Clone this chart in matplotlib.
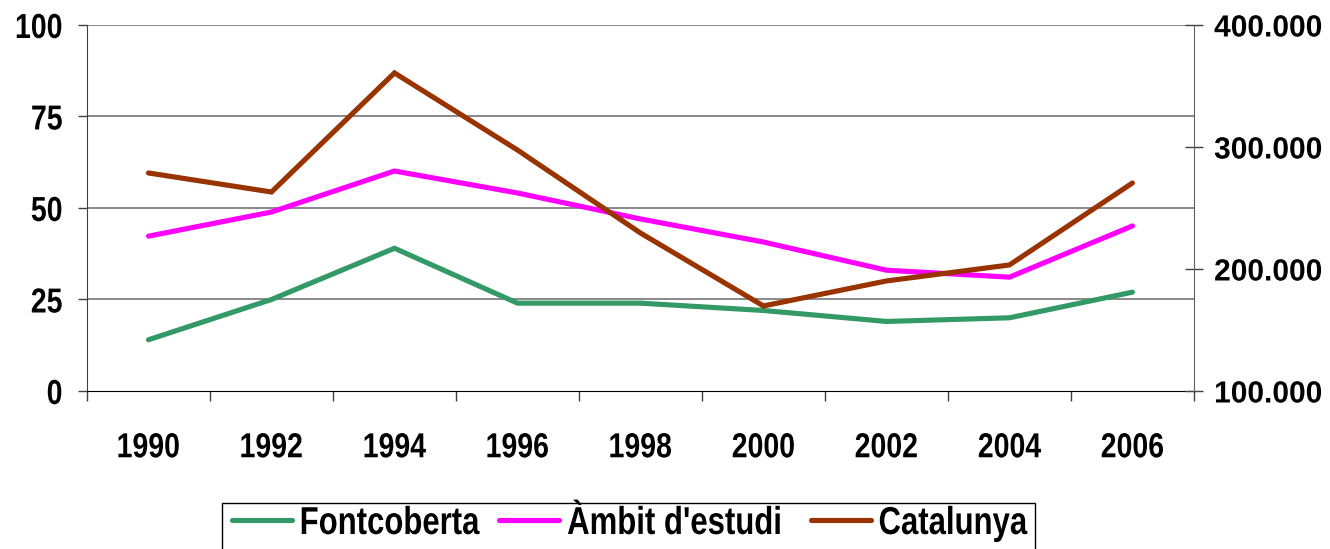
import numpy as np
import matplotlib.pyplot as plt
from matplotlib.patheffects import AbstractPathEffect
from matplotlib.transforms import Affine2D
from matplotlib.patches import Rectangle

years = ['1990', '1992', '1994', '1996', '1998', '2000', '2002', '2004', '2006']
fontcoberta = [14, 25, 39, 24, 24, 22, 19, 20, 27]
ambit = [42.3, 48.9, 60.1, 54.1, 47.0, 40.7, 33.0, 31.1, 45.1]
catalunya = [278700, 263100, 360700, 297500, 229500, 169700, 190200, 203300, 270500]

left_ticks = [0, 25, 50, 75, 100]
right_ticks = [100000, 200000, 300000, 400000]
right_labels = ['100.000', '200.000', '300.000', '400.000']
names = ['Fontcoberta', "Àmbit d'estudi", 'Catalunya']


class Narrow(AbstractPathEffect):
    """Squeeze glyphs horizontally (no narrow font installed)."""
    def __init__(self, sx=0.82, anchor='left'):
        super().__init__()
        self.sx = sx
        self.anchor = anchor

    def draw_path(self, renderer, gc, tpath, affine, rgbFace=None):
        xmax = tpath.vertices[:, 0].max()
        x0 = {'left': 0.0, 'center': xmax / 2, 'right': xmax}[self.anchor]
        squeeze = Affine2D().translate(-x0, 0).scale(self.sx, 1).translate(x0, 0)
        renderer.draw_path(gc, tpath, squeeze + affine, rgbFace)


plt.rcParams['font.family'] = ['Liberation Sans', 'DejaVu Sans']
plt.rcParams['font.weight'] = 'bold'

W, H = 1330, 549
fig = plt.figure(figsize=(W / 100, H / 100), dpi=100)
ax = fig.add_axes([0.0654, 0.2878, 0.8323, 0.6667])
ax2 = ax.twinx()

x = np.arange(len(years))
style = dict(lw=3.7, solid_joinstyle='miter', solid_capstyle='round')
l1, = ax.plot(x, fontcoberta, color='#339966', **style)
l2, = ax.plot(x, ambit, color='#FF00FF', **style)
l3, = ax2.plot(x, catalunya, color='#993300', **style)

ax.set_xlim(-0.5, len(years) - 0.5)
ax.set_ylim(0, 100)
ax2.set_ylim(100000, 400000)

# horizontal grid on the left scale
ax.set_yticks(left_ticks)
ax.set_yticklabels([str(t) for t in left_ticks], fontsize=25, fontweight='bold')
for t in left_ticks[1:]:
    ax.axhline(t, color='#808080', lw=1.3, zorder=0)
ax.tick_params(axis='y', length=6.5, width=1, pad=11, color='#404040')

# category boundaries get tick marks, centres get the labels
ax.set_xticks(np.arange(-0.5, len(years), 1.0))
ax.set_xticklabels([])
ax.set_xticks(x, minor=True)
ax.set_xticklabels(years, minor=True, fontsize=25, fontweight='bold')
ax.tick_params(axis='x', which='major', length=7, width=1, color='#404040')
ax.tick_params(axis='x', which='minor', length=0, pad=29)

ax2.set_yticks(right_ticks)
ax2.set_yticklabels(right_labels, fontsize=22, fontweight='bold')
ax2.tick_params(axis='y', direction='inout', length=13, width=1, pad=8, color='#404040')

for lbl in ax.get_xticklabels(minor=True):
    lbl.set_path_effects([Narrow(anchor='center')])
for lbl in ax.get_yticklabels():
    lbl.set_path_effects([Narrow(anchor='right')])
for lbl in ax2.get_yticklabels():
    lbl.set_path_effects([Narrow(sx=0.98, anchor='left')])

for a in (ax, ax2):
    a.spines['top'].set_visible(False)
ax.spines['right'].set_visible(False)
ax.spines['left'].set_color('#404040')
ax.spines['bottom'].set_color('#000000')
ax2.spines['left'].set_visible(False)
ax2.spines['bottom'].set_visible(False)
ax2.spines['right'].set_color('#606060')

# legend: squeezed labels, so the frame is drawn by hand around them
fs = 28 * 100 / 72
text_w = [5.778, 6.905, 4.779]
sx = 0.8
spacing = (20 - (1 - sx) * text_w[0] * fs) / fs
leg = fig.legend([l1, l2, l3], names, loc='upper left',
                 bbox_to_anchor=(232 / W, 1 - 506 / H), ncol=3,
                 prop={'size': 28, 'weight': 'bold'}, frameon=False,
                 handlelength=1.54, handletextpad=0.2,
                 columnspacing=spacing, borderpad=0, borderaxespad=0)
for t in leg.get_texts():
    t.set_path_effects([Narrow(sx=sx, anchor='left')])

fig.canvas.draw()
bb = leg.get_window_extent()
last = leg.get_texts()[-1].get_window_extent()
x0 = bb.x0 - 10
x1 = bb.x1 - (1 - sx) * last.width + 8
y1 = bb.y1 + 3.5
y0 = bb.y0 - 12
fig.add_artist(Rectangle((x0 / W, y0 / H), (x1 - x0) / W, (y1 - y0) / H,
                         transform=fig.transFigure, fill=False,
                         edgecolor='black', lw=1.0))

fig.savefig('out.png', dpi=100)
